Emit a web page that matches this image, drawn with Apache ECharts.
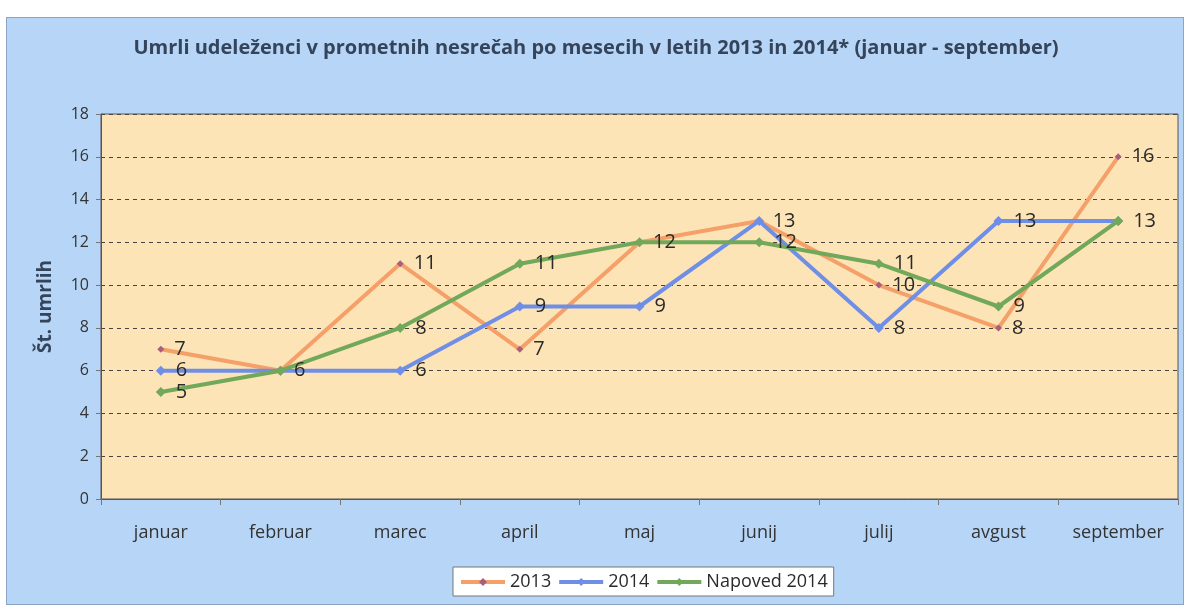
<!DOCTYPE html>
<html><head><meta charset="utf-8">
<script src="https://cdn.jsdelivr.net/npm/echarts@6/dist/echarts.min.js"></script>
<style>
html,body{margin:0;padding:0;background:#fff;width:1188px;height:605px;overflow:hidden;}
#wrap{position:absolute;left:6px;top:17px;width:1178px;height:588px;background:#b7d6f7;border:1px solid #8aa6c4;box-sizing:border-box;}
#chart{width:1178px;height:588px;}
</style></head>
<body><div id="wrap"><div id="chart"></div></div>
<script>
const categories = ['januar','februar','marec','april','maj','junij','julij','avgust','september'];
const s2013 = [7,6,11,7,12,13,10,8,16];
const s2014 = [6,6,6,9,9,13,8,13,13];
const sNapoved = [5,6,8,11,12,12,11,9,13];
const seriesNames = ['2013','2014','Napoved 2014'];
const titleText = 'Umrli udeleženci v prometnih nesrečah po mesecih v letih 2013 in 2014* (januar - september)';
const yName = 'Št. umrlih';

const chart = echarts.init(document.getElementById('chart'));
const FONT = 'Open Sans';
// hide a data label when an earlier series already labels the same point
const seen = new Set();
function withLabels(data){
  return data.map((v,i)=>{
    const k = i+'_'+v;
    const dup = seen.has(k);
    seen.add(k);
    return dup ? {value:v,label:{show:false}} : v;
  });
}
function mk(name, data, color, symColor, symSize){
  return {
    name, type:'line', data:withLabels(data), color,
    lineStyle:{width:4,color},
    symbol:'diamond', symbolSize:symSize,
    itemStyle:{color:symColor},
    label:{show:true,position:'right',distance:10,fontSize:20,color:'#2a2a2a',fontFamily:FONT}
  };
}
chart.setOption({
  backgroundColor:'transparent',
  animation:false,
  textStyle:{fontFamily:FONT},
  title:{text:titleText,left:'center',top:15,textStyle:{fontSize:20,fontWeight:'bold',color:'#34445a',fontFamily:FONT}},
  grid:{left:94,top:96,width:1077,height:385,show:true,backgroundColor:'#fde4b7',borderColor:'#555',borderWidth:1},
  legend:{left:446,top:549,itemWidth:44,itemHeight:10,itemGap:6,backgroundColor:'#fff',borderColor:'#777',borderWidth:1,padding:[6,6,5,6],
    lineStyle:{width:4},
    textStyle:{fontSize:18,color:'#2a2a2a',fontFamily:FONT},
    data:seriesNames},
  xAxis:{type:'category',data:categories,boundaryGap:true,
    axisLine:{lineStyle:{color:'#555'}},
    axisTick:{show:true,inside:false,length:6,lineStyle:{color:'#777'}},
    axisLabel:{fontSize:18,color:'#333',margin:25,fontFamily:FONT}},
  yAxis:{type:'value',min:0,max:18,interval:2,name:yName,nameLocation:'middle',nameGap:46,
    nameTextStyle:{fontSize:19,fontWeight:'bold',color:'#34445a',fontFamily:FONT},
    axisLine:{show:true,lineStyle:{color:'#555'}},
    axisTick:{show:true,length:5,lineStyle:{color:'#777'}},
    axisLabel:{fontSize:16,color:'#333',margin:12,fontFamily:FONT},
    splitLine:{show:true,lineStyle:{type:[4,4],color:'#444',width:1}}},
  series:[
    mk(seriesNames[0],s2013,'#f5a068','#a8607a',7),
    mk(seriesNames[1],s2014,'#6f8ee6','#6f8ee6',10),
    mk(seriesNames[2],sNapoved,'#72a85a','#72a85a',10)
  ]
});
</script></body></html>
